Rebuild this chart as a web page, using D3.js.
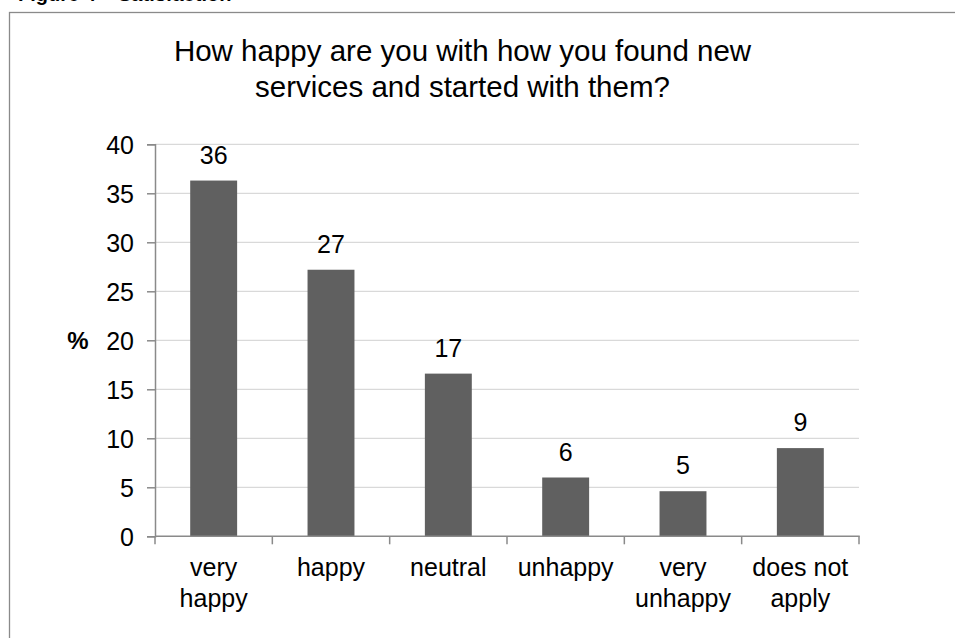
<!DOCTYPE html>
<html>
<head>
<meta charset="utf-8">
<script src="https://cdn.jsdelivr.net/npm/d3@7"></script>
<style>
  html, body { margin: 0; padding: 0; background: #fff; }
  svg { display: block; font-family: "Liberation Sans", Arial, sans-serif; }
</style>
</head>
<body>
<svg id="chart" width="955" height="638"></svg>
<script>
const categories = [["very", "happy"], ["happy"], ["neutral"], ["unhappy"], ["very", "unhappy"], ["does not", "apply"]];
const values = [36.3, 27.2, 16.6, 6.0, 4.6, 9.0];
const yTicks = [0, 5, 10, 15, 20, 25, 30, 35, 40];
const titleLines = ["How happy are you with how you found new", "services and started with them?"];
const captionText = "Figure 4 \u2013 Satisfaction";
const yLabel = "%";

const svg = d3.select("#chart");
const W = 955, H = 638;
const m = { left: 155, right: 859, top: 144.3, bottom: 536.3 };

// clipped caption above the frame
svg.append("text").attr("x", 18).attr("y", 1)
  .attr("font-size", 20).attr("font-weight", "bold").attr("fill", "#000")
  .text(captionText);

// outer frame
svg.append("rect").attr("x", 9.5).attr("y", 12.5).attr("width", W).attr("height", H)
  .attr("fill", "#fff").attr("stroke", "#8a8a8a").attr("stroke-width", 1.3);

const idx = categories.map((d, i) => i);
const x = d3.scaleBand().domain(idx).range([m.left, m.right]).paddingInner(0).paddingOuter(0);
const y = d3.scaleLinear().domain([0, 40]).range([m.bottom, m.top]);

// gridlines
svg.append("g").selectAll("line").data(yTicks.filter(t => t > 0)).join("line")
  .attr("x1", m.left).attr("x2", m.right)
  .attr("y1", d => y(d)).attr("y2", d => y(d))
  .attr("stroke", "#d9d9d9").attr("stroke-width", 1.3);

// bars
const bw = x.bandwidth() * 0.4;
svg.append("g").selectAll("rect").data(values).join("rect")
  .attr("x", (d, i) => x(i) + (x.bandwidth() - bw) / 2)
  .attr("width", bw)
  .attr("y", d => y(d))
  .attr("height", d => y(0) - y(d))
  .attr("fill", "#606060");

// data labels
svg.append("g").selectAll("text").data(values).join("text")
  .attr("x", (d, i) => x(i) + x.bandwidth() / 2)
  .attr("y", d => y(d) - 17)
  .attr("text-anchor", "middle")
  .attr("font-size", 25).attr("fill", "#000")
  .text(d => Math.round(d));

// y axis
const yAxis = d3.axisLeft(y).tickValues(yTicks).tickSize(8).tickPadding(13);
const gy = svg.append("g").attr("transform", `translate(${m.left},0)`).call(yAxis);
gy.select(".domain").attr("stroke", "#8a8a8a").attr("stroke-width", 1.5);
gy.selectAll(".tick line").attr("stroke", "#8a8a8a").attr("stroke-width", 1.5);
gy.selectAll(".tick text").attr("font-size", 25).attr("fill", "#000")
  .attr("font-family", "'Liberation Sans', Arial, sans-serif").attr("dy", "0.36em");

// x axis (ticks at category boundaries)
const boundaries = idx.map(i => x(i)).concat([m.right]);
svg.append("line").attr("x1", m.left).attr("x2", m.right + 0.75)
  .attr("y1", m.bottom).attr("y2", m.bottom)
  .attr("stroke", "#8a8a8a").attr("stroke-width", 1.5);
svg.append("g").selectAll("line").data(boundaries).join("line")
  .attr("x1", d => d).attr("x2", d => d)
  .attr("y1", m.bottom).attr("y2", m.bottom + 8)
  .attr("stroke", "#8a8a8a").attr("stroke-width", 1.5);

// category labels
const cl = svg.append("g").selectAll("text").data(categories).join("text")
  .attr("text-anchor", "middle").attr("font-size", 25).attr("fill", "#000");
cl.each(function(d, i) {
  const t = d3.select(this);
  d.forEach((line, j) => {
    t.append("tspan").attr("x", x(i) + x.bandwidth() / 2).attr("y", 576 + j * 31).text(line);
  });
});

// y label
svg.append("text").attr("x", 78).attr("y", 349).attr("text-anchor", "middle")
  .attr("font-size", 24).attr("font-weight", "bold").attr("fill", "#000").text(yLabel);

// title
svg.append("g").selectAll("text").data(titleLines).join("text")
  .attr("x", 462.5).attr("y", (d, i) => 61 + i * 36)
  .attr("text-anchor", "middle").attr("font-size", 29.5).attr("fill", "#000")
  .text(d => d);
</script>
</body>
</html>
